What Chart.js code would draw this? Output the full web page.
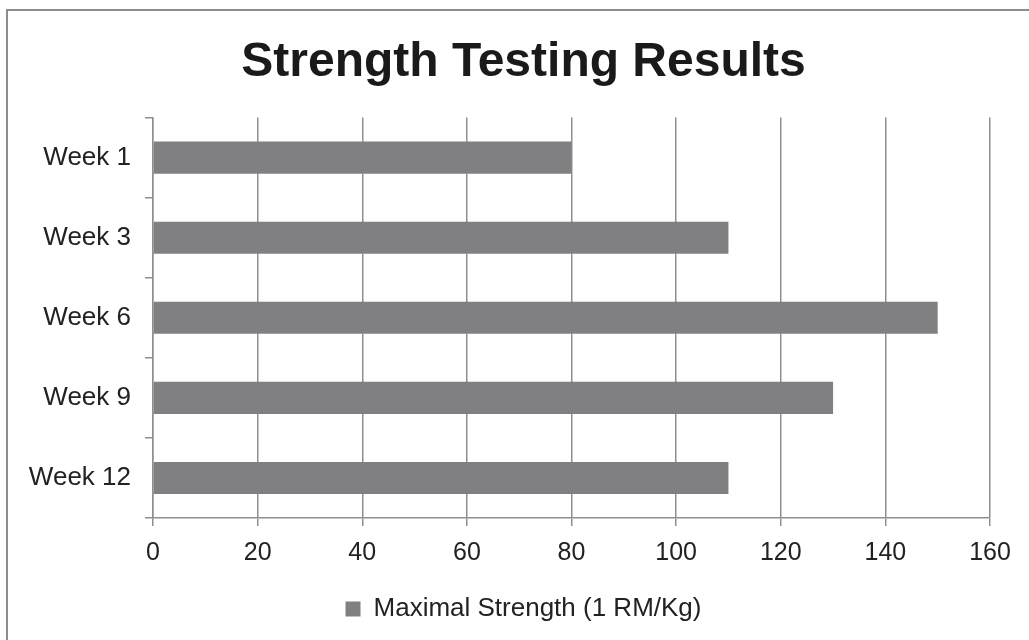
<!DOCTYPE html>
<html>
<head>
<meta charset="utf-8">
<script src="https://cdn.jsdelivr.net/npm/chart.js@4.4.1/dist/chart.umd.min.js"></script>
<style>
  html, body { margin: 0; padding: 0; background: #fff; }
  #wrap { width: 1029px; height: 640px; position: relative; }
</style>
</head>
<body>
<div id="wrap"><canvas id="myChart" width="1029" height="640"></canvas></div>
<script>
const semanas = ["Week 1", "Week 3", "Week 6", "Week 9", "Week 12"];
const fuerza = [80, 110, 150, 130, 110];
const ejeMin = 0;
const ejeMax = 160;
const paso = 20;
const titulo = "Strength Testing Results";
const leyenda = "Maximal Strength (1 RM/Kg)";

const ctx = document.getElementById("myChart");
const lineas = "#8f8f8f";

// marco: solo lineas arriba e izquierda (el original esta recortado)
const marco = {
  id: "marco",
  afterDraw(chart) {
    const c = chart.ctx;
    c.save();
    c.strokeStyle = "#8c8c8c";
    c.lineWidth = 2;
    c.beginPath();
    c.moveTo(7, chart.height);
    c.lineTo(7, 10);
    c.lineTo(chart.width, 10);
    c.stroke();
    c.restore();
  },
};

let chart = new Chart(ctx, {
  type: "bar",
  data: {
    labels: semanas,
    datasets: [
      {
        label: leyenda,
        data: fuerza,
        backgroundColor: "#808083",
        borderWidth: 0,
        barPercentage: 0.4,
        categoryPercentage: 1,
      },
    ],
  },
  options: {
    indexAxis: "y",
    responsive: false,
    animation: false,
    // padding derecho negativo para centrar titulo y leyenda como el original
    layout: { padding: { top: 20, right: -18, bottom: 8, left: 0 } },
    plugins: {
      title: {
        display: true,
        text: titulo,
        color: "#1a1a1a",
        font: { family: "Liberation Sans", size: 48, weight: "bold" },
        padding: { top: 14, bottom: 26 },
      },
      legend: {
        position: "bottom",
        labels: {
          color: "#222",
          font: { family: "Liberation Sans", size: 26 },
          boxWidth: 15,
          boxHeight: 15,
          padding: 10,
        },
      },
      tooltip: { enabled: false },
    },
    scales: {
      x: {
        min: ejeMin,
        max: ejeMax,
        ticks: {
          stepSize: paso,
          color: "#222",
          font: { family: "Liberation Sans", size: 25 },
          padding: 12,
        },
        grid: { color: lineas, lineWidth: 1.5, tickLength: 8 },
        border: { color: lineas, width: 1.5 },
        afterFit(scale) {
          scale.height = 68;
          scale.paddingRight = 39;
        },
      },
      y: {
        ticks: {
          color: "#222",
          font: { family: "Liberation Sans", size: 26 },
          padding: 14,
        },
        grid: { drawOnChartArea: false, offset: true, color: lineas, lineWidth: 1.5, tickLength: 8 },
        border: { color: lineas, width: 1.5 },
        afterFit(scale) { scale.width = 153; },
      },
    },
  },
  plugins: [marco],
});
</script>
</body>
</html>
